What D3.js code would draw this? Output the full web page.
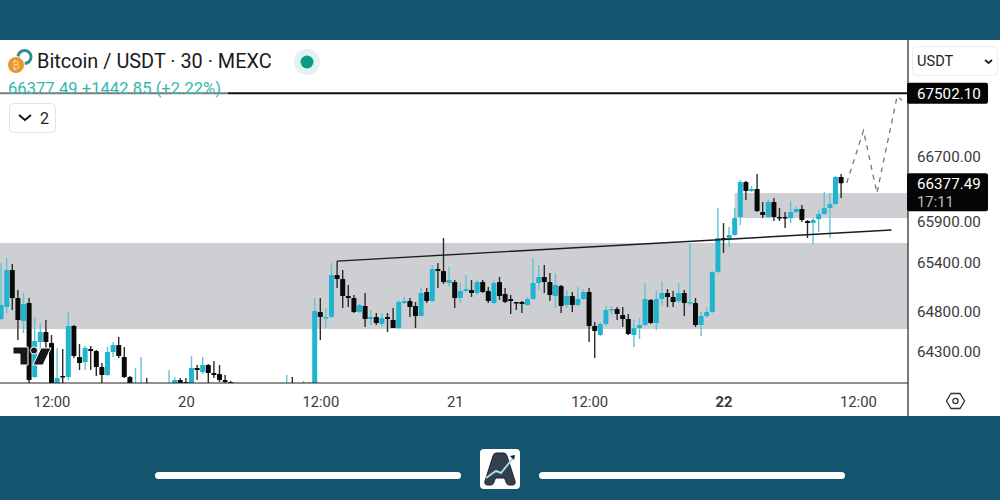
<!DOCTYPE html>
<html>
<head>
<meta charset="utf-8">
<script src="https://cdn.jsdelivr.net/npm/d3@7/dist/d3.min.js"></script>
<style>
  html, body { margin: 0; padding: 0; background: #15546e; }
  svg { display: block; font-family: Roboto, sans-serif; }
</style>
</head>
<body>
<svg width="1000" height="500"></svg>
<script>
// half hour candles, index 0 is 12:00 on the 19th, first candle is index -9
var firstIndex = -9;

var opens = [
  64706,64854,65309,64964,64681,64903,63992,64423,64546,64410,
  63857,64004,63992,64620,64238,64177,64336,64312,64115,64017,
  64299,64386,64238,63992,63770,63770,63857,null,null,null,
  63770,63857,63955,63930,63857,64103,64054,64140,64041,64029,
  63955,63930,null,null,null,null,null,null,null,null,
  null,63770,63857,63770,63770,63770,63857,64792,64718,64730,
  65247,65198,64989,64964,64792,64866,64706,64730,64644,64730,
  64693,64595,64903,64927,64866,64743,65038,64927,65321,65297,
  65149,65161,64964,65050,65063,65026,65161,65050,64903,65161,
  65014,64952,64915,64915,64878,64952,65149,65223,65161,64989,
  65112,64878,64989,64878,64952,65038,64620,64509,64644,64817,
  64829,64755,64706,64509,64595,64632,64940,64656,64952,65026,
  64977,64927,65026,64903,64903,64632,64743,64792,65284,65703,
  65690,65740,65961,66392,66281,66306,66023,65961,66146,65961,
  65961,65949,66023,66060,65912,65887,65937,65998,66072,66121,
  66454
];
var highs = [
  65395,65456,65383,65063,65026,64964,64730,64656,64693,64509,
  64349,64336,64792,64632,64398,64373,64373,64324,64164,64361,
  64423,64484,64361,64004,64103,64238,63980,null,null,null,
  64078,63992,63980,63980,64250,64140,64238,64152,64189,64140,
  64017,63943,null,null,null,null,null,null,null,null,
  null,64017,63992,63918,63943,63930,64964,64964,64841,65395,
  65419,65309,65124,65001,64891,65026,64817,64780,64780,64780,
  64841,64940,64977,64964,64915,65087,65087,65370,65395,65703,
  65346,65186,65149,65247,65186,65186,65186,65100,65174,65223,
  65087,65001,64915,64927,64977,65456,65370,65370,65272,65272,
  65124,65063,65038,65100,65075,65087,64669,64669,64866,64866,
  64854,64854,64767,64693,64718,65149,64952,65063,65174,65075,
  65050,65149,65063,65641,64964,64792,64854,65297,66072,65887,
  65838,66072,66417,66404,66343,66490,66146,66171,66195,66072,
  66023,66158,66097,66109,65924,65949,66047,66269,66257,66466,
  66490
];
var lows = [
  64693,64780,64817,64447,64533,63918,63980,64324,64324,63832,
  63832,63832,63955,64226,64078,64078,64078,64004,63857,64004,
  64238,64226,63980,63832,63758,63758,63758,null,null,null,
  63758,63832,63832,63832,63832,63955,64029,63832,63980,63930,
  63918,63832,null,null,null,null,null,null,null,null,
  null,63758,63758,63758,63758,63758,63832,64447,64595,64718,
  65087,64841,64854,64780,64780,64607,64632,64632,64607,64546,
  64595,64583,64891,64730,64595,64730,64903,64915,65087,65137,
  65100,64841,64903,65038,64977,65001,65026,64903,64891,64940,
  64903,64767,64817,64780,64866,64940,65063,65026,64927,64841,
  64780,64841,64792,64866,64940,64423,64226,64496,64620,64755,
  64693,64607,64509,64361,64460,64620,64644,64570,64878,64854,
  64854,64903,64743,64878,64607,64496,64718,64780,65272,65518,
  65592,65727,65863,66171,66269,66023,65949,65949,65912,65912,
  65826,65887,66010,65900,65703,65629,65777,65986,65703,66109,
  66195
];
var closes = [
  64878,65309,64964,64693,64891,63955,64435,64546,64423,63857,
  63980,63992,64620,64250,64164,64349,64312,64115,64017,64299,
  64386,64250,63992,63857,63857,63857,63770,null,null,null,
  63857,63955,63857,63857,64103,64078,64140,64041,64017,63955,
  63930,63857,null,null,null,null,null,null,null,null,
  null,63857,63770,63857,63857,63857,64804,64730,64730,65247,
  65198,64989,64964,64792,64878,64706,64730,64656,64718,64706,
  64595,64915,64927,64854,64743,65026,64927,65321,65297,65161,
  65186,64964,65050,65075,65026,65161,65038,64927,65149,64989,
  64915,64927,64903,64891,64952,65149,65223,65161,65001,65124,
  64866,64989,64878,64952,65038,64620,64558,64644,64817,64829,
  64767,64706,64521,64595,64632,64952,64656,64952,65026,64977,
  64915,65026,64903,64915,64632,64743,64792,65284,65703,65690,
  65740,65949,66392,66281,66306,66035,65986,66146,65961,65949,
  65949,66023,66060,65924,65887,65924,65998,66072,66121,66454,
  66377
];

var priceTicks = [64300, 64800, 65400, 65900, 66700];
var timeTicks = [0, 24, 48, 72, 96, 120, 144];
var timeLabels = ['12:00', '20', '12:00', '21', '12:00', '22', '12:00'];

// drawings on the chart, in candle index and price
var bigZone = [64583, 65641];
var smallZone = { from: 122, low: 65949, high: 66257 };
var targetPrice = 67502.10;
var lastPrice = 66377.49;
var trendIndex = [51, 150];
var trendPrice = [65419, 65801];
var pathIndex = [142, 145, 147.4, 151, 151.9];
var pathPrice = [66380, 67032, 66257, 67463, 67414];

var svg = d3.select('svg');

var plotRight = 908, plotTop = 40, plotBottom = 383, paneBottom = 416;
var cyan = '#1fb4cf', cyanWick = '#62c4d6', black = '#0a0a0a';

var x = d3.scaleLinear().domain([0, 144]).range([51.5, 857.9]);
// the price axis is not quite linear up near the target
var y = d3.scaleLinear().domain([64300, 66700, targetPrice]).range([352, 157, 93.3]);

// white pane
svg.append('rect')
    .attr('x', 0).attr('y', plotTop)
    .attr('width', 1000).attr('height', paneBottom - plotTop)
    .attr('fill', '#fff');

svg.append('defs').append('clipPath')
    .attr('id', 'plot')
  .append('rect')
    .attr('x', 0).attr('y', plotTop)
    .attr('width', plotRight).attr('height', plotBottom - plotTop);

var plot = svg.append('g').attr('clip-path', 'url(#plot)');

// zones
plot.append('rect')
    .attr('x', 0).attr('width', plotRight)
    .attr('y', y(bigZone[1])).attr('height', y(bigZone[0]) - y(bigZone[1]))
    .attr('fill', '#cecfd3');
plot.append('rect')
    .attr('x', x(smallZone.from)).attr('width', plotRight - x(smallZone.from))
    .attr('y', y(smallZone.high)).attr('height', y(smallZone.low) - y(smallZone.high))
    .attr('fill', '#cecfd3');

// candles
var candleData = d3.range(opens.length)
    .map(function(i) {
        return { i: i + firstIndex, o: opens[i], h: highs[i], l: lows[i], c: closes[i] };
    })
    .filter(function(d) { return d.o !== null; });

var candle = plot.append('g')
    .selectAll('g')
    .data(candleData)
    .enter().append('g');

candle.append('line')
    .attr('x1', function(d) { return x(d.i); })
    .attr('x2', function(d) { return x(d.i); })
    .attr('y1', function(d) { return y(d.h); })
    .attr('y2', function(d) { return y(d.l); })
    .attr('stroke', function(d) { return d.c >= d.o ? cyanWick : '#2b2b2b'; })
    .attr('stroke-width', 1.4);

candle.append('rect')
    .attr('x', function(d) { return x(d.i) - 2.5; })
    .attr('width', 5)
    .attr('y', function(d) { return y(Math.max(d.o, d.c)); })
    .attr('height', function(d) { return Math.max(1.5, Math.abs(y(d.o) - y(d.c))); })
    .attr('rx', 0.6)
    .attr('fill', function(d) { return d.c >= d.o ? cyan : black; });

// trend line
plot.append('path')
    .attr('d', d3.line()
        .x(function(d, i) { return x(trendIndex[i]); })
        .y(function(d) { return y(d); })(trendPrice))
    .attr('fill', 'none')
    .attr('stroke', '#1c1c1c')
    .attr('stroke-width', 1.4);

// projected move
plot.append('path')
    .attr('d', d3.line()
        .x(function(d, i) { return x(pathIndex[i]); })
        .y(function(d) { return y(d); })(pathPrice))
    .attr('fill', 'none')
    .attr('stroke', '#777')
    .attr('stroke-width', 1.3)
    .attr('stroke-dasharray', '5 5');

// target line
plot.append('line')
    .attr('x1', 0).attr('x2', plotRight)
    .attr('y1', y(targetPrice)).attr('y2', y(targetPrice))
    .attr('stroke', '#111')
    .attr('stroke-width', 2);

// tradingview mark
var logo = svg.append('g').attr('transform', 'translate(13,346)');
logo.append('path')
    .attr('d', 'M0 1H15V19H7V8H0Z M28 2H38L30 19H20Z')
    .attr('fill', '#17171b').attr('stroke', '#fff').attr('stroke-width', 1);
logo.append('circle')
    .attr('cx', 21).attr('cy', 4.5).attr('r', 3.6)
    .attr('fill', '#17171b').attr('stroke', '#fff').attr('stroke-width', 1);

// axes
var yAxis = d3.axisRight(y)
    .tickValues(priceTicks)
    .tickFormat(d3.format('.2f'))
    .tickSize(0)
    .tickPadding(9);
var yG = svg.append('g')
    .attr('transform', 'translate(' + plotRight + ',0)')
    .call(yAxis);
yG.select('.domain').remove();
yG.selectAll('text')
    .attr('font-size', 15.2).attr('font-family', 'Roboto, sans-serif').attr('fill', '#3a3a3a');

var xAxis = d3.axisBottom(x)
    .tickValues(timeTicks)
    .tickFormat(function(d, i) { return timeLabels[i]; })
    .tickSize(0)
    .tickPadding(13);
var xG = svg.append('g')
    .attr('transform', 'translate(0,' + plotBottom + ')')
    .call(xAxis);
xG.select('.domain').remove();
xG.selectAll('text')
    .attr('font-size', 14.8).attr('font-family', 'Roboto, sans-serif').attr('fill', '#3a3a3a')
    .attr('font-weight', function(d, i) { return timeLabels[i] === '22' ? 700 : 400; });

// frame lines
svg.append('line')
    .attr('x1', 0).attr('x2', plotRight)
    .attr('y1', plotBottom).attr('y2', plotBottom)
    .attr('stroke', '#222').attr('stroke-width', 1.2);
svg.append('line')
    .attr('x1', plotRight).attr('x2', plotRight)
    .attr('y1', plotTop).attr('y2', paneBottom)
    .attr('stroke', '#222').attr('stroke-width', 1.2);

// price labels
svg.append('rect')
    .attr('x', 907).attr('y', y(targetPrice) - 10.5)
    .attr('width', 81).attr('height', 21).attr('rx', 2)
    .attr('fill', '#050505');
svg.append('text')
    .attr('x', 917).attr('y', y(targetPrice) + 5.5)
    .attr('font-size', 15.2).attr('fill', '#fff')
    .text(d3.format('.2f')(targetPrice));

svg.append('rect')
    .attr('x', 907).attr('y', y(lastPrice) - 10)
    .attr('width', 81).attr('height', 38).attr('rx', 2)
    .attr('fill', '#050505');
svg.append('text')
    .attr('x', 917).attr('y', y(lastPrice) + 5.5)
    .attr('font-size', 15.2).attr('fill', '#fff')
    .text(d3.format('.2f')(lastPrice));
svg.append('text')
    .attr('x', 917).attr('y', y(lastPrice) + 23.5)
    .attr('font-size', 14.8).attr('fill', '#bdbdbd')
    .text('17:11');

// currency button
svg.append('rect')
    .attr('x', 912.5).attr('y', 46.5)
    .attr('width', 85).attr('height', 29).attr('rx', 4)
    .attr('fill', '#fff').attr('stroke', '#ececec');
svg.append('text')
    .attr('x', 917).attr('y', 66)
    .attr('font-size', 14.6).attr('fill', '#222')
    .text('USDT');
svg.append('path')
    .attr('d', 'M985 60l3.500 3l3.500 -3')
    .attr('fill', 'none').attr('stroke', '#222').attr('stroke-width', 1.8);

// legend
svg.append('circle').attr('cx', 24.5).attr('cy', 57).attr('r', 6.5)
    .attr('fill', '#fff').attr('stroke', '#2f8f8c').attr('stroke-width', 3);
svg.append('circle').attr('cx', 16).attr('cy', 65).attr('r', 8.5)
    .attr('fill', '#e9962c').attr('stroke', '#fff').attr('stroke-width', 1);
svg.append('text').attr('x', 16).attr('y', 69)
    .attr('text-anchor', 'middle').attr('font-size', 10).attr('fill', '#f6d9ae').text('₿');
svg.append('text')
    .attr('x', 37).attr('y', 68)
    .attr('font-size', 19.9).attr('fill', '#1a1a1a')
    .text('Bitcoin / USDT · 30 · MEXC');
svg.append('circle').attr('cx', 307).attr('cy', 62).attr('r', 13).attr('fill', '#e2f2f0');
svg.append('circle').attr('cx', 307).attr('cy', 62).attr('r', 6.5).attr('fill', '#0b9a82');

// legend value sits on a faded strip over the target line
svg.append('rect')
    .attr('x', 0).attr('y', 80)
    .attr('width', 228).attr('height', 17)
    .attr('fill', '#fff').attr('opacity', 0.45);
svg.append('text')
    .attr('x', 8).attr('y', 94)
    .attr('font-size', 16.6).attr('fill', '#35b7ae')
    .text('66377.49 +1442.85 (+2.22%)');

svg.append('rect')
    .attr('x', 9.5).attr('y', 103.5)
    .attr('width', 46).attr('height', 29).attr('rx', 4)
    .attr('fill', '#fff').attr('stroke', '#e3e3e3');
svg.append('path')
    .attr('d', 'M19 115l6 5l6 -5')
    .attr('fill', 'none').attr('stroke', '#111').attr('stroke-width', 1.8);
svg.append('text')
    .attr('x', 40).attr('y', 124)
    .attr('font-size', 16).attr('fill', '#222')
    .text('2');

// settings hexagon
svg.append('path')
    .attr('d', 'M951 393.500h9l4.500 7.500l-4.500 7.500h-9l-4.500 -7.500z')
    .attr('fill', 'none').attr('stroke', '#333').attr('stroke-width', 1.3);
svg.append('circle').attr('cx', 955.5).attr('cy', 401).attr('r', 2.6)
    .attr('fill', 'none').attr('stroke', '#333').attr('stroke-width', 1.3);

// bottom banner
svg.append('rect').attr('x', 155).attr('y', 472).attr('width', 306).attr('height', 7)
    .attr('rx', 3.5).attr('fill', '#fff');
svg.append('rect').attr('x', 539).attr('y', 472).attr('width', 306).attr('height', 7)
    .attr('rx', 3.5).attr('fill', '#fff');
svg.append('rect').attr('x', 480).attr('y', 449).attr('width', 40).attr('height', 40)
    .attr('rx', 4).attr('fill', '#fff');
svg.append('path')
    .attr('d', 'M496 453h8q2 0 3 3l8 25q1 4 -3 4h-3q-2 0 -3 -3l-1.500 -4h-9l-1.500 4q-1 3 -3 3h-3q-4 0 -3 -4l8 -25q1 -3 3 -3z')
    .attr('fill', '#333f4c').attr('stroke', '#1b232c').attr('stroke-width', 1);
svg.append('path')
    .attr('d', 'M486 478l10 -7l5 2l12 -15')
    .attr('fill', 'none').attr('stroke', '#a9dbe8').attr('stroke-width', 2);
svg.append('path')
    .attr('d', 'M510 456l5 -1l-1 5z').attr('fill', '#1b232c');
</script>
</body>
</html>
